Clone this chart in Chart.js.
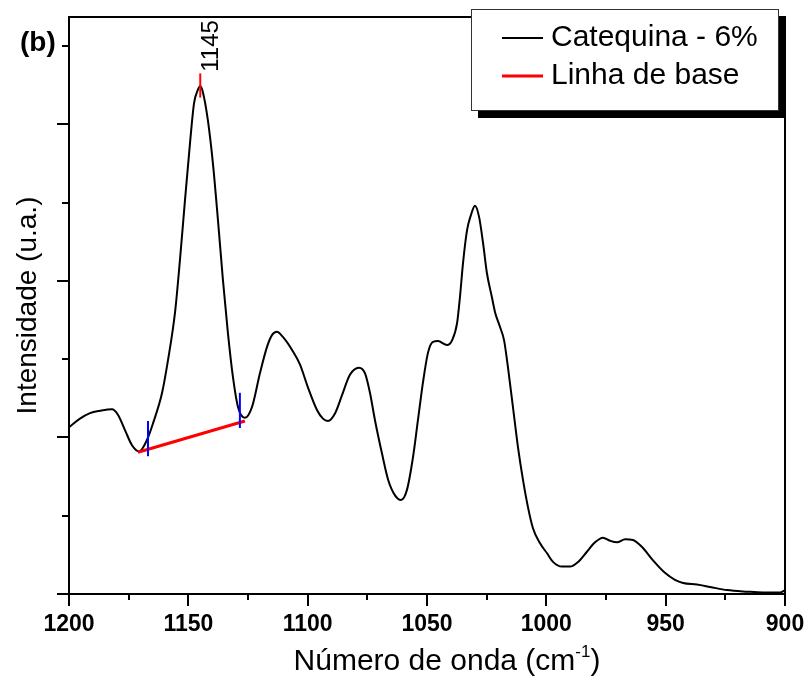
<!DOCTYPE html>
<html><head><meta charset="utf-8">
<script src="https://cdn.jsdelivr.net/npm/chart.js@4"></script>
<style>html,body{margin:0;padding:0;background:#fff}canvas{display:block}</style>
</head><body>
<canvas id="c" width="810" height="677"></canvas>
<script>
// ---- data ----
const wavenumber = [1200.0,1195.4,1191.2,1187.0,1182.0,1179.5,1176.5,1173.6,1170.6,1167.3,1164.8,1161.0,1158.5,1155.6,1153.5,1151.4,1149.3,1147.6,1146.0,1145.0,1143.9,1141.8,1139.7,1137.6,1135.5,1133.4,1131.3,1129.2,1126.3,1123.3,1120.0,1117.0,1114.9,1112.9,1110.3,1106.6,1103.2,1099.9,1096.1,1093.6,1091.5,1088.5,1085.6,1082.3,1078.5,1076.0,1073.9,1071.8,1068.9,1066.3,1063.4,1060.9,1058.4,1055.9,1053.8,1051.7,1049.6,1047.5,1045.4,1041.6,1039.5,1037.4,1036.2,1034.9,1033.2,1031.6,1029.9,1028.2,1026.5,1024.9,1022.8,1021.5,1019.4,1017.7,1016.1,1014.0,1011.9,1009.8,1007.7,1005.6,1002.7,999.7,997.2,993.4,990.1,986.7,983.0,979.6,976.3,973.3,970.4,967.0,963.7,959.9,955.3,950.3,946.1,942.7,936.9,931.4,924.3,915.9,909.2,902.1,900.0];
const intensity = [2.13,2.24,2.31,2.34,2.36,2.29,2.09,1.90,1.82,1.97,2.18,2.57,2.99,3.59,4.27,5.03,5.76,6.27,6.44,6.49,6.41,6.05,5.50,4.78,4.01,3.33,2.77,2.39,2.25,2.39,2.82,3.16,3.31,3.35,3.28,3.12,2.93,2.64,2.35,2.24,2.21,2.31,2.54,2.80,2.89,2.82,2.57,2.22,1.80,1.46,1.26,1.20,1.33,1.74,2.22,2.70,3.08,3.22,3.23,3.18,3.24,3.46,3.79,4.23,4.65,4.84,4.96,4.82,4.48,4.10,3.79,3.60,3.41,3.24,2.90,2.39,1.88,1.46,1.11,0.84,0.65,0.52,0.41,0.35,0.35,0.41,0.54,0.66,0.72,0.68,0.66,0.70,0.69,0.60,0.43,0.27,0.18,0.14,0.12,0.09,0.05,0.03,0.02,0.02,0.05];
const baselineX = [1171.1, 1126.3];
const baselineY = [1.81, 2.21];
const markerX = [1166.9, 1128.4];
const markerLow = [1.76, 2.12];
const markerHigh = [2.21, 2.57];
const peakX = 1145;
const peakMarkY = [6.34, 6.65];
const peakLabel = '1145';
const peakLabelY = 7.0;
const xMajorTicks = [1200,1150,1100,1050,1000,950,900];
const xMinorTicks = [1175,1125,1075,1025,975,925];
const yMajorTicks = [0,2,4,6];
const yMinorTicks = [1,3,5,7];
const seriesLabels = ['Catequina - 6%', 'Linha de base'];
const panelLabel = '(b)';
const xTitle = ['Número de onda (cm', '-1', ')'];
const yTitle = 'Intensidade (u.a.)';

const FONT = '"Liberation Sans", Arial, Helvetica, sans-serif';

const deco = {
  id: 'deco',
  afterDraw(chart) {
    const ctx = chart.ctx, a = chart.chartArea, xs = chart.scales.x, ys = chart.scales.y;
    ctx.save();
    ctx.strokeStyle = '#000'; ctx.lineWidth = 2;
    ctx.strokeRect(a.left, a.top, a.right - a.left, a.bottom - a.top);
    ctx.beginPath();
    xMinorTicks.forEach(v => { const p = Math.round(xs.getPixelForValue(v)); ctx.moveTo(p, a.bottom); ctx.lineTo(p, a.bottom + 6); });
    yMinorTicks.forEach(v => { const p = Math.round(ys.getPixelForValue(v)); ctx.moveTo(a.left, p); ctx.lineTo(a.left - 7, p); });
    ctx.stroke();

    // peak label
    ctx.save();
    ctx.translate(xs.getPixelForValue(peakX) + 11, ys.getPixelForValue(peakLabelY));
    ctx.rotate(-Math.PI / 2);
    ctx.fillStyle = '#000'; ctx.font = '24px ' + FONT; ctx.textAlign = 'center'; ctx.textBaseline = 'middle';
    ctx.fillText(peakLabel, 0, 0);
    ctx.restore();

    // panel label
    ctx.fillStyle = '#000'; ctx.font = 'bold 28px ' + FONT; ctx.textAlign = 'left'; ctx.textBaseline = 'middle';
    ctx.fillText(panelLabel, 20, 43);

    // x title with superscript
    ctx.textBaseline = 'alphabetic';
    ctx.font = '30px ' + FONT; const w1 = ctx.measureText(xTitle[0]).width, w3 = ctx.measureText(xTitle[2]).width;
    ctx.font = '17px ' + FONT; const w2 = ctx.measureText(xTitle[1]).width;
    let x = 447 - (w1 + w2 + w3) / 2; const y = 670;
    ctx.font = '30px ' + FONT; ctx.fillText(xTitle[0], x, y); x += w1;
    ctx.font = '17px ' + FONT; ctx.fillText(xTitle[1], x, y - 13); x += w2;
    ctx.font = '30px ' + FONT; ctx.fillText(xTitle[2], x, y);

    // legend
    const L = 471, T = 9, W = 307, H = 101;
    ctx.fillStyle = '#000'; ctx.fillRect(L + 7, T + 8, W, H);
    ctx.fillStyle = '#fff'; ctx.fillRect(L, T, W, H);
    ctx.strokeStyle = '#333'; ctx.lineWidth = 1; ctx.strokeRect(L + 0.5, T + 0.5, W, H);
    const items = [{c: '#000', w: 2, y: 38}, {c: '#ff0000', w: 3, y: 76}];
    items.forEach((it, i) => {
      ctx.strokeStyle = it.c; ctx.lineWidth = it.w;
      ctx.beginPath(); ctx.moveTo(502, it.y); ctx.lineTo(543, it.y); ctx.stroke();
      ctx.fillStyle = '#000'; ctx.font = '30px ' + FONT; ctx.textBaseline = 'middle'; ctx.textAlign = 'left';
      ctx.fillText(seriesLabels[i], 551, it.y);
    });
    ctx.restore();
  }
};

new Chart(document.getElementById('c'), {
  type: 'line',
  data: {
    datasets: [
      {label: 'm1', data: [{x: markerX[0], y: markerLow[0]}, {x: markerX[0], y: markerHigh[0]}], borderColor: '#0000ff', borderWidth: 2, pointRadius: 0},
      {label: 'm2', data: [{x: markerX[1], y: markerLow[1]}, {x: markerX[1], y: markerHigh[1]}], borderColor: '#0000ff', borderWidth: 2, pointRadius: 0},
      {label: seriesLabels[1], data: baselineX.map((v, i) => ({x: v, y: baselineY[i]})), borderColor: '#ff0000', borderWidth: 3, pointRadius: 0},
      {label: 'peak', data: [{x: peakX, y: peakMarkY[0]}, {x: peakX, y: peakMarkY[1]}], borderColor: '#ff0000', borderWidth: 2, pointRadius: 0},
      {label: seriesLabels[0], data: wavenumber.map((v, i) => ({x: v, y: intensity[i]})), borderColor: '#000', borderWidth: 2, pointRadius: 0, cubicInterpolationMode: 'monotone'}
    ]
  },
  options: {
    responsive: false, animation: false, devicePixelRatio: 1,
    layout: {padding: {left: 0, right: 25, top: 17, bottom: 0}},
    plugins: {legend: {display: false}, tooltip: {enabled: false}},
    scales: {
      x: {
        type: 'linear', reverse: true, min: 900, max: 1200,
        afterBuildTicks: s => { s.ticks = xMajorTicks.map(v => ({value: v})); },
        afterFit: s => { s.height = 83; },
        ticks: {font: {family: FONT, size: 23, weight: 'bold'}, color: '#000', padding: 5, maxRotation: 0, autoSkip: false, callback: v => String(v)},
        grid: {drawOnChartArea: false, tickLength: 12, color: '#000', lineWidth: 2},
        border: {color: '#000', width: 2}
      },
      y: {
        type: 'linear', min: 0, max: 7.37,
        afterBuildTicks: s => { s.ticks = yMajorTicks.map(v => ({value: v})); },
        afterFit: s => { s.width = 69; },
        ticks: {display: false},
        grid: {drawOnChartArea: false, tickLength: 12, color: '#000', lineWidth: 2},
        border: {color: '#000', width: 2},
        title: {display: true, text: yTitle, color: '#000', font: {family: FONT, size: 28}, padding: {top: 11, bottom: 0}}
      }
    }
  },
  plugins: [deco]
});
</script>
</body></html>
